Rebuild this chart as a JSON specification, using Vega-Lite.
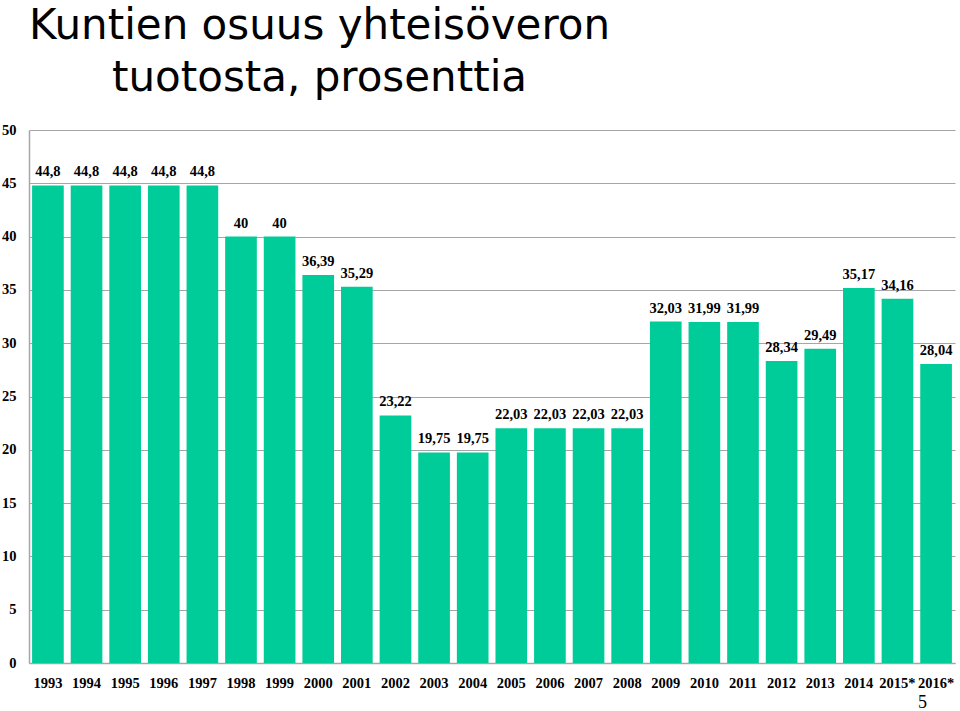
{
  "$schema": "https://vega.github.io/schema/vega-lite/v6.json",
  "width": 926,
  "height": 533,
  "autosize": {"type": "none"},
  "padding": {"left": 29, "top": 130, "right": 5, "bottom": 48},
  "background": "white",
  "title": {
    "text": ["Kuntien osuus yhteisöveron", "tuotosta, prosenttia"],
    "anchor": "start",
    "align": "center",
    "dx": 318,
    "baseline": "bottom",
    "offset": -20,
    "lineHeight": 52,
    "font": "DejaVu Sans",
    "fontSize": 42,
    "fontWeight": "normal",
    "color": "#000000"
  },
  "config": {
    "view": {"stroke": null},
    "locale": {"number": {"decimal": ",", "thousands": " ", "grouping": [3], "currency": ["", " €"]}}
  },
  "data": {
    "values": [
      {"year": "1993", "share": 44.8},
      {"year": "1994", "share": 44.8},
      {"year": "1995", "share": 44.8},
      {"year": "1996", "share": 44.8},
      {"year": "1997", "share": 44.8},
      {"year": "1998", "share": 40},
      {"year": "1999", "share": 40},
      {"year": "2000", "share": 36.39},
      {"year": "2001", "share": 35.29},
      {"year": "2002", "share": 23.22},
      {"year": "2003", "share": 19.75},
      {"year": "2004", "share": 19.75},
      {"year": "2005", "share": 22.03},
      {"year": "2006", "share": 22.03},
      {"year": "2007", "share": 22.03},
      {"year": "2008", "share": 22.03},
      {"year": "2009", "share": 32.03},
      {"year": "2010", "share": 31.99},
      {"year": "2011", "share": 31.99},
      {"year": "2012", "share": 28.34},
      {"year": "2013", "share": 29.49},
      {"year": "2014", "share": 35.17},
      {"year": "2015*", "share": 34.16},
      {"year": "2016*", "share": 28.04}
    ]
  },
  "encoding": {
    "x": {
      "field": "year",
      "type": "nominal",
      "sort": null,
      "scale": {"paddingInner": 0.18, "paddingOuter": 0.08},
      "axis": {
        "title": "5",
        "titleFont": "Liberation Serif",
        "titleFontWeight": "normal",
        "titleFontSize": 18,
        "titleColor": "#000000",
        "titleX": 893,
        "titleY": 44,
        "titleAlign": "center",
        "titleBaseline": "alphabetic",
        "labelAngle": 0,
        "labelFont": "Liberation Serif",
        "labelFontWeight": "bold",
        "labelFontSize": 14.5,
        "labelColor": "#000000",
        "labelPadding": 13,
        "ticks": false,
        "domainColor": "#A6A6A6",
        "domainWidth": 1.5,
        "labelOverlap": false
      }
    },
    "y": {
      "field": "share",
      "type": "quantitative",
      "scale": {"domain": [0, 50], "nice": false},
      "axis": {
        "title": null,
        "values": [0, 5, 10, 15, 20, 25, 30, 35, 40, 45, 50],
        "labelFont": "Liberation Serif",
        "labelFontWeight": "bold",
        "labelFontSize": 14.5,
        "labelColor": "#000000",
        "labelPadding": 13,
        "ticks": false,
        "grid": true,
        "gridColor": "#A6A6A6",
        "gridWidth": 1.2,
        "domainColor": "#A6A6A6",
        "domainWidth": 1.5
      }
    }
  },
  "layer": [
    {"mark": {"type": "bar", "color": "#00CC99"}},
    {
      "mark": {
        "type": "text",
        "dy": -9,
        "baseline": "alphabetic",
        "font": "Liberation Serif",
        "fontWeight": "bold",
        "fontSize": 14.5,
        "color": "#000000"
      },
      "encoding": {
        "text": {"field": "share", "type": "quantitative", "format": "~f"}
      }
    }
  ]
}
